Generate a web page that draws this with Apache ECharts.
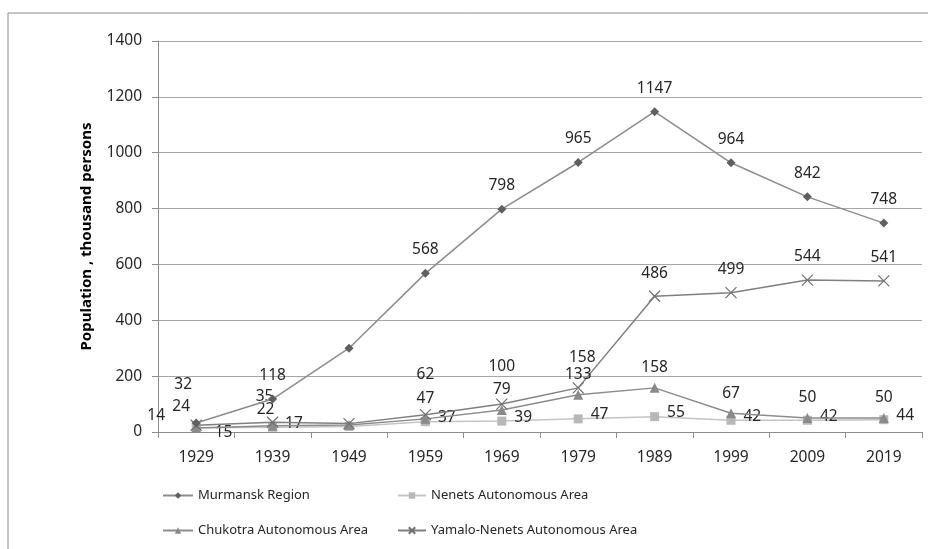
<!DOCTYPE html>
<html><head><meta charset="utf-8">
<script src="https://cdn.jsdelivr.net/npm/echarts@6/dist/echarts.min.js"></script>
<style>html,body{margin:0;padding:0;background:#fff}#c{width:928px;height:549px}</style>
</head><body><div id="c"></div>
<script>
const years = ['1929','1939','1949','1959','1969','1979','1989','1999','2009','2019'];
const murmansk = [32, 118, 300, 568, 798, 965, 1147, 964, 842, 748];
const nenets = [15, 17, 20, 37, 39, 47, 55, 42, 42, 44];
const chukotka = [14, 22, 25, 47, 79, 133, 158, 67, 50, 50];
const yamalo = [24, 35, 30, 62, 100, 158, 486, 499, 544, 541];
const yTicks = [0, 200, 400, 600, 800, 1000, 1200, 1400];
const names = ['Murmansk Region','Nenets Autonomous Area','Chukotra Autonomous Area','Yamalo-Nenets Autonomous Area'];
const hideLabel = {1949: true};

const FONT = 'Noto Sans';
const txt = '#262626';

function items(vals, overrides) {
  return vals.map((v, i) => {
    const o = { value: v };
    if (hideLabel[years[i]]) o.label = { show: false };
    if (overrides && overrides[i]) o.label = Object.assign({}, overrides[i]);
    return o;
  });
}
const baseLabel = { show: true, color: txt, fontFamily: FONT, fontSize: 15.5 };
const cross = 'path://M0,0L10,10M10,0L0,10';
const legendText = { fontFamily: FONT, fontSize: 13, color: txt };

const chart = echarts.init(document.getElementById('c'));
chart.setOption({
  animation: false,
  graphic: [{ type: 'rect', shape: { x: 8, y: 13, width: 1000, height: 600 }, style: { fill: 'none', stroke: '#8c8c8c', lineWidth: 1 }, silent: true }],
  grid: { left: 158, right: 6, top: 41, bottom: 117 },
  xAxis: {
    type: 'category', data: years, boundaryGap: true,
    axisLine: { lineStyle: { color: '#8c8c8c' } },
    axisTick: { show: true, length: 6, lineStyle: { color: '#8c8c8c' } },
    axisLabel: { color: txt, fontFamily: FONT, fontSize: 15.5, margin: 18 }
  },
  yAxis: {
    type: 'value', min: yTicks[0], max: yTicks[yTicks.length - 1], interval: 200,
    name: 'Population , thousand persons', nameLocation: 'middle', nameGap: 64,
    nameTextStyle: { fontFamily: FONT, fontWeight: 'bold', fontSize: 15, color: '#000' },
    axisLine: { show: true, lineStyle: { color: '#8c8c8c' } },
    axisTick: { show: true, length: 6, lineStyle: { color: '#8c8c8c' } },
    axisLabel: { color: txt, fontFamily: FONT, fontSize: 15.5, margin: 16, formatter: v => String(v) },
    splitLine: { lineStyle: { color: '#a6a6a6' } }
  },
  legend: [
    { left: 157, top: 484, itemWidth: 30, itemHeight: 8, itemGap: 4, data: [names[0]], textStyle: legendText },
    { left: 392, top: 484, itemWidth: 28, itemHeight: 8, itemGap: 4, data: [names[1]], textStyle: legendText },
    { left: 157, top: 519, itemWidth: 30, itemHeight: 8, itemGap: 4, data: [names[2]], textStyle: legendText },
    { left: 392, top: 519, itemWidth: 28, itemHeight: 8, itemGap: 4, data: [names[3]], textStyle: legendText }
  ],
  series: [
    {
      name: names[0], type: 'line', data: items(murmansk, { 0: { offset: [-13, -15] } }),
      symbol: 'diamond', symbolSize: 9, showAllSymbol: true,
      lineStyle: { color: '#8c8c8c', width: 1.5 }, itemStyle: { color: '#5f5f5f' },
      label: Object.assign({ position: 'top', distance: 11 }, baseLabel), z: 4
    },
    {
      name: names[1], type: 'line', data: items(nenets, { 0: { offset: [6, 5] } }),
      symbol: 'rect', symbolSize: 9, showAllSymbol: true,
      lineStyle: { color: '#c4c4c4', width: 1.5 }, itemStyle: { color: '#b8b8b8' },
      label: Object.assign({ position: 'right', distance: 8, offset: [0, -4] }, baseLabel), z: 2
    },
    {
      name: names[2], type: 'line', data: items(chukotka, { 0: { offset: [-40, 7] }, 1: { offset: [-7, 4] } }),
      symbol: 'triangle', symbolSize: 10, showAllSymbol: true,
      lineStyle: { color: '#8c8c8c', width: 1.5 }, itemStyle: { color: '#8a8a8a' },
      label: Object.assign({ position: 'top', distance: 7 }, baseLabel), z: 3
    },
    {
      name: names[3], type: 'line', data: items(yamalo, { 0: { offset: [-15, 4] }, 1: { offset: [-8, -3] }, 3: { offset: [0, -17] }, 4: { offset: [0, -14] }, 5: { offset: [4, -7] } }),
      symbol: cross, symbolSize: 11, showAllSymbol: true,
      lineStyle: { color: '#7f7f7f', width: 1.5 }, itemStyle: { color: 'none', borderColor: '#6f6f6f', borderWidth: 1.2 },
      label: Object.assign({ position: 'top', distance: 7 }, baseLabel), z: 3
    }
  ]
});
</script>
</body></html>
